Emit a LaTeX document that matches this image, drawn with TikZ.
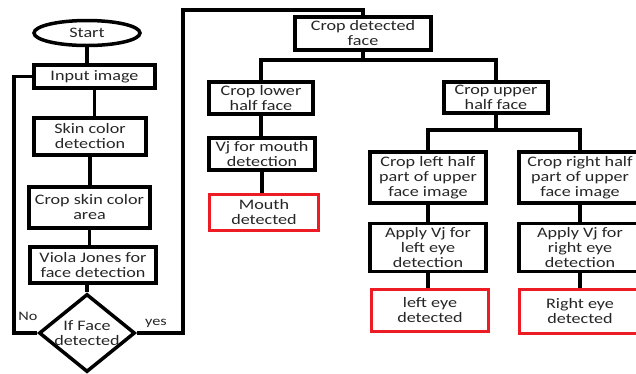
\documentclass[tikz,border=0pt]{standalone}
\usepackage{fontspec}
\setmainfont{Carlito}[FakeStretch=1.25]
\usetikzlibrary{shapes.geometric}
\definecolor{boxred}{RGB}{237,28,36}

\tikzset{
    flow/.style={draw, line width=3.5pt, align=center, inner sep=1pt, text=black!85, font=\fontsize{14.5}{15}\selectfont},
    found/.style={flow, draw=boxred, line width=3pt},
    link/.style={line width=3.5pt},
}

\begin{document}
\begin{tikzpicture}[x=1pt, y=-1pt]
    \useasboundingbox (0,0) rectangle (636,373);
    \node[flow, ellipse, minimum width=106, minimum height=25] (start) at (87,33) {Start};
    \node[flow, minimum width=121, minimum height=23] (input) at (94.5,76.5) {Input image};
    \node[flow, minimum width=112, minimum height=37] (skin) at (90,136.5) {Skin color\\detection};
    \node[flow, minimum width=121, minimum height=41] (cropskin) at (89.5,207.5) {Crop skin color\\area};
    \node[flow, minimum width=126, minimum height=36] (viola) at (93,265) {Viola Jones for\\face detection};
    \node[flow, diamond, aspect=1.25, inner sep=-2pt, minimum width=96, minimum height=78] (face) at (87,333) {If Face\\detected};
    \node[text=black!85, font=\fontsize{13}{13}\selectfont] (no) at (28,316) {No};
    \node[text=black!85, font=\fontsize{13}{13}\selectfont] (yes) at (156,323) {yes};
    \coordinate (nobend) at (14,0);
    \coordinate (yesbend) at (183,10);

    \node[flow, minimum width=136, minimum height=33] (cropface) at (363,33.5) {Crop detected\\face};
    \node[flow, minimum width=104, minimum height=32] (lower) at (261,98) {Crop lower\\half face};
    \node[flow, minimum width=106, minimum height=32] (mouthvj) at (262,154) {Vj for mouth\\detection};
    \node[found, minimum width=109, minimum height=36] (mouth) at (264,212.5) {Mouth\\detected};
    \node[flow, minimum width=104, minimum height=31] (upper) at (496,97.5) {Crop upper\\half face};
    \node[flow, minimum width=116, minimum height=51] (lefthalf) at (428,177.5) {Crop left half\\part of upper\\face image};
    \node[flow, minimum width=122, minimum height=51] (righthalf) at (580,177.5) {Crop right half\\part of upper\\face image};
    \node[flow, minimum width=116, minimum height=48] (lefteyevj) at (428,247.5) {Apply Vj for\\left eye\\detection};
    \node[flow, minimum width=122, minimum height=48] (righteyevj) at (580,247.5) {Apply Vj for\\right eye\\detection};
    \node[found, minimum width=117, minimum height=42] (lefteye) at (430,310.5) {left eye\\detected};
    \node[found, minimum width=122, minimum height=44] (righteye) at (580,311.5) {Right eye\\detected};
    \coordinate (facesplit) at (363,60);
    \coordinate (uppersplit) at (496,130);

    \draw[link] (start.south) -- (start.south |- input.north);
    \draw[link] (input.south) -- (input.south |- skin.north);
    \draw[link] (skin.south) -- (skin.south |- cropskin.north);
    \draw[link] (cropskin.south) -- (cropskin.south |- viola.north);
    \draw[link] (viola.south -| face.north) -- (face.north);
    \draw[link] (face.west) -- (face.west -| nobend) -- (input.west -| nobend) -- (input.west);
    \draw[link] (face.east) -| (yesbend) -| (cropface.north);
    \draw[link] (cropface.south) -- (facesplit);
    \draw[link] (lower.north) |- (facesplit) -| (upper.north);
    \draw[link] (lower.south) -- (lower.south |- mouthvj.north);
    \draw[link] (mouthvj.south) -- (mouthvj.south |- mouth.north);
    \draw[link] (upper.south) -- (uppersplit);
    \draw[link] (lefthalf.north) |- (uppersplit) -| (righthalf.north);
    \draw[link] (lefthalf.south) -- (lefteyevj.north);
    \draw[link] (lefteyevj.south) -- (lefteyevj.south |- lefteye.north);
    \draw[link] (righthalf.south) -- (righteyevj.north);
    \draw[link] (righteyevj.south) -- (righteye.north);
\end{tikzpicture}
\end{document}
